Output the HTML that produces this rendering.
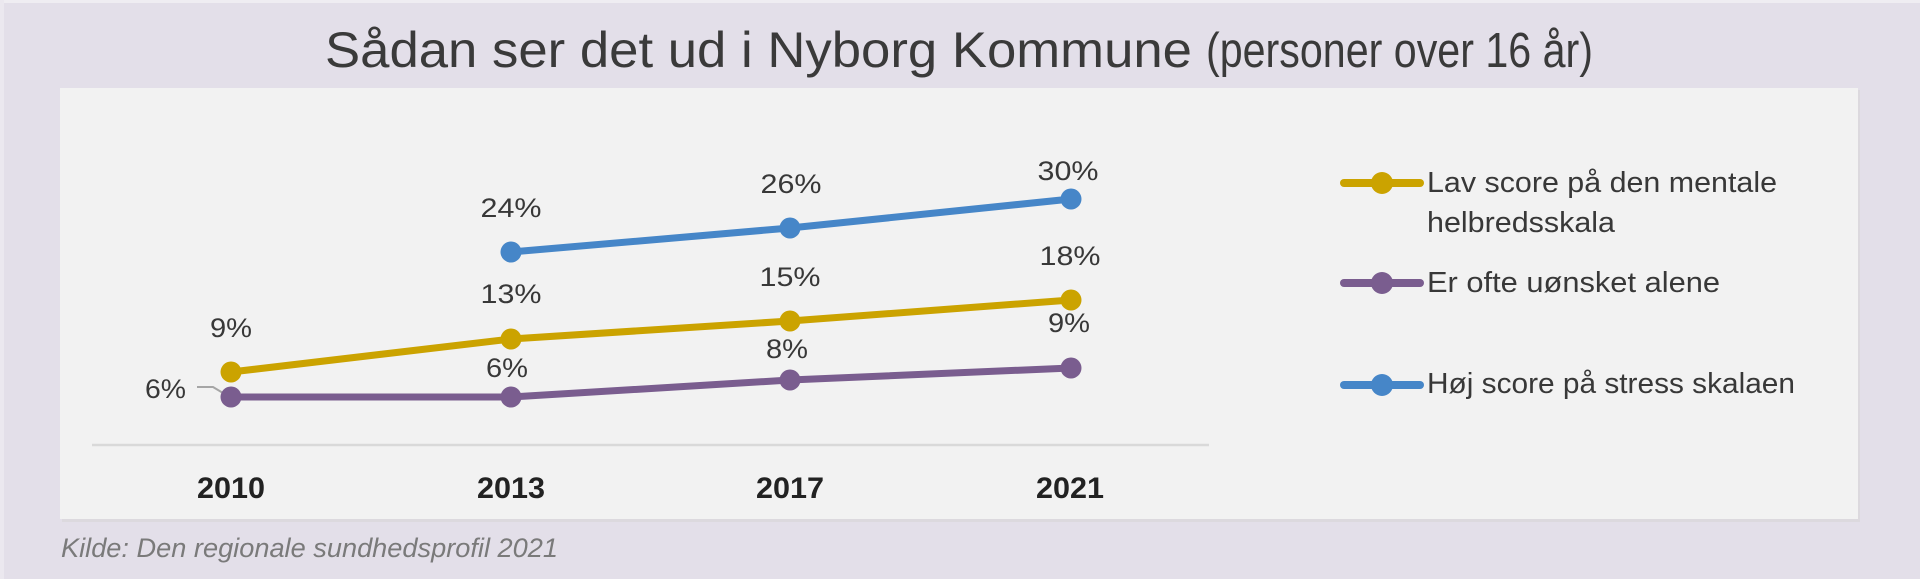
<!DOCTYPE html>
<html>
<head>
<meta charset="utf-8">
<style>
  html, body { margin: 0; padding: 0; background: #e3dfe9; }
  svg { display: block; }
  text { font-family: "Liberation Sans", Arial, sans-serif; }
</style>
</head>
<body>
<svg width="1920" height="579" viewBox="0 0 1920 579" xmlns="http://www.w3.org/2000/svg">
  <!-- background -->
  <rect x="0" y="0" width="1920" height="579" fill="#e3dfe9"/>
  <rect x="0" y="0" width="1920" height="3" fill="#efedf2"/>
  <rect x="0" y="0" width="4" height="579" fill="#ebe8ef"/>

  <!-- title -->
  <text x="325" y="67" font-size="50" fill="#3a3a3a" textLength="867" lengthAdjust="spacingAndGlyphs">Sådan ser det ud i Nyborg Kommune</text>
  <text x="1206" y="67" font-size="49" fill="#3a3a3a" textLength="387" lengthAdjust="spacingAndGlyphs">(personer over 16 år)</text>

  <!-- plot panel -->
  <rect x="62" y="90" width="1798" height="432" fill="#dcd9de"/>
  <rect x="60" y="88" width="1798" height="431" fill="#f2f2f2"/>

  <!-- axis line -->
  <line x1="92" y1="445" x2="1209" y2="445" stroke="#d9d9d9" stroke-width="2.5"/>

  <!-- x labels -->
  <g font-size="30" font-weight="bold" fill="#222" text-anchor="middle">
    <text x="231" y="498" textLength="68" lengthAdjust="spacingAndGlyphs">2010</text>
    <text x="511" y="498" textLength="68" lengthAdjust="spacingAndGlyphs">2013</text>
    <text x="790" y="498" textLength="68" lengthAdjust="spacingAndGlyphs">2017</text>
    <text x="1070" y="498" textLength="68" lengthAdjust="spacingAndGlyphs">2021</text>
  </g>

  <!-- leader line -->
  <polyline points="197,387 213,387 228,396" fill="none" stroke="#a6a6a6" stroke-width="2"/>

  <!-- series: yellow -->
  <polyline points="231,372 511,339 790,321 1071,300" fill="none" stroke="#cba300" stroke-width="7" stroke-linejoin="round"/>
  <g fill="#cba300">
    <circle cx="231" cy="372" r="10.5"/>
    <circle cx="511" cy="339" r="10.5"/>
    <circle cx="790" cy="321" r="10.5"/>
    <circle cx="1071" cy="300" r="10.5"/>
  </g>

  <!-- series: purple -->
  <polyline points="231,397 511,397 790,380 1071,368" fill="none" stroke="#7a5d8f" stroke-width="7" stroke-linejoin="round"/>
  <g fill="#7a5d8f">
    <circle cx="231" cy="397" r="10.5"/>
    <circle cx="511" cy="397" r="10.5"/>
    <circle cx="790" cy="380" r="10.5"/>
    <circle cx="1071" cy="368" r="10.5"/>
  </g>

  <!-- series: blue -->
  <polyline points="511,252 790,228 1071,199" fill="none" stroke="#4686c8" stroke-width="7" stroke-linejoin="round"/>
  <g fill="#4686c8">
    <circle cx="511" cy="252" r="10.5"/>
    <circle cx="790" cy="228" r="10.5"/>
    <circle cx="1071" cy="199" r="10.5"/>
  </g>

  <!-- data labels -->
  <g font-size="27" fill="#383838" text-anchor="middle">
    <text x="231" y="337" textLength="42" lengthAdjust="spacingAndGlyphs">9%</text>
    <text x="511" y="303" textLength="61" lengthAdjust="spacingAndGlyphs">13%</text>
    <text x="790" y="286" textLength="61" lengthAdjust="spacingAndGlyphs">15%</text>
    <text x="1070" y="265" textLength="61" lengthAdjust="spacingAndGlyphs">18%</text>

    <text x="507" y="377" textLength="42" lengthAdjust="spacingAndGlyphs">6%</text>
    <text x="787" y="358" textLength="42" lengthAdjust="spacingAndGlyphs">8%</text>
    <text x="1069" y="332" textLength="42" lengthAdjust="spacingAndGlyphs">9%</text>

    <text x="511" y="217" textLength="61" lengthAdjust="spacingAndGlyphs">24%</text>
    <text x="791" y="193" textLength="61" lengthAdjust="spacingAndGlyphs">26%</text>
    <text x="1068" y="180" textLength="61" lengthAdjust="spacingAndGlyphs">30%</text>
  </g>
  <text x="186" y="398" font-size="27" fill="#383838" text-anchor="end" textLength="41" lengthAdjust="spacingAndGlyphs">6%</text>

  <!-- legend -->
  <g stroke-width="8" stroke-linecap="round">
    <line x1="1344" y1="183" x2="1420" y2="183" stroke="#cba300"/>
    <line x1="1344" y1="283" x2="1420" y2="283" stroke="#7a5d8f"/>
    <line x1="1344" y1="385" x2="1420" y2="385" stroke="#4686c8"/>
  </g>
  <circle cx="1382" cy="183" r="11" fill="#cba300"/>
  <circle cx="1382" cy="283" r="11" fill="#7a5d8f"/>
  <circle cx="1382" cy="385" r="11" fill="#4686c8"/>
  <g font-size="29" fill="#383838">
    <text x="1427" y="192" textLength="350" lengthAdjust="spacingAndGlyphs">Lav score på den mentale</text>
    <text x="1427" y="232" textLength="188" lengthAdjust="spacingAndGlyphs">helbredsskala</text>
    <text x="1427" y="292" textLength="293" lengthAdjust="spacingAndGlyphs">Er ofte uønsket alene</text>
    <text x="1427" y="393" textLength="368" lengthAdjust="spacingAndGlyphs">Høj score på stress skalaen</text>
  </g>

  <!-- caption -->
  <text x="61" y="557" font-size="27" font-style="italic" fill="#7a7a7a" textLength="497" lengthAdjust="spacingAndGlyphs">Kilde: Den regionale sundhedsprofil 2021</text>
</svg>
</body>
</html>
